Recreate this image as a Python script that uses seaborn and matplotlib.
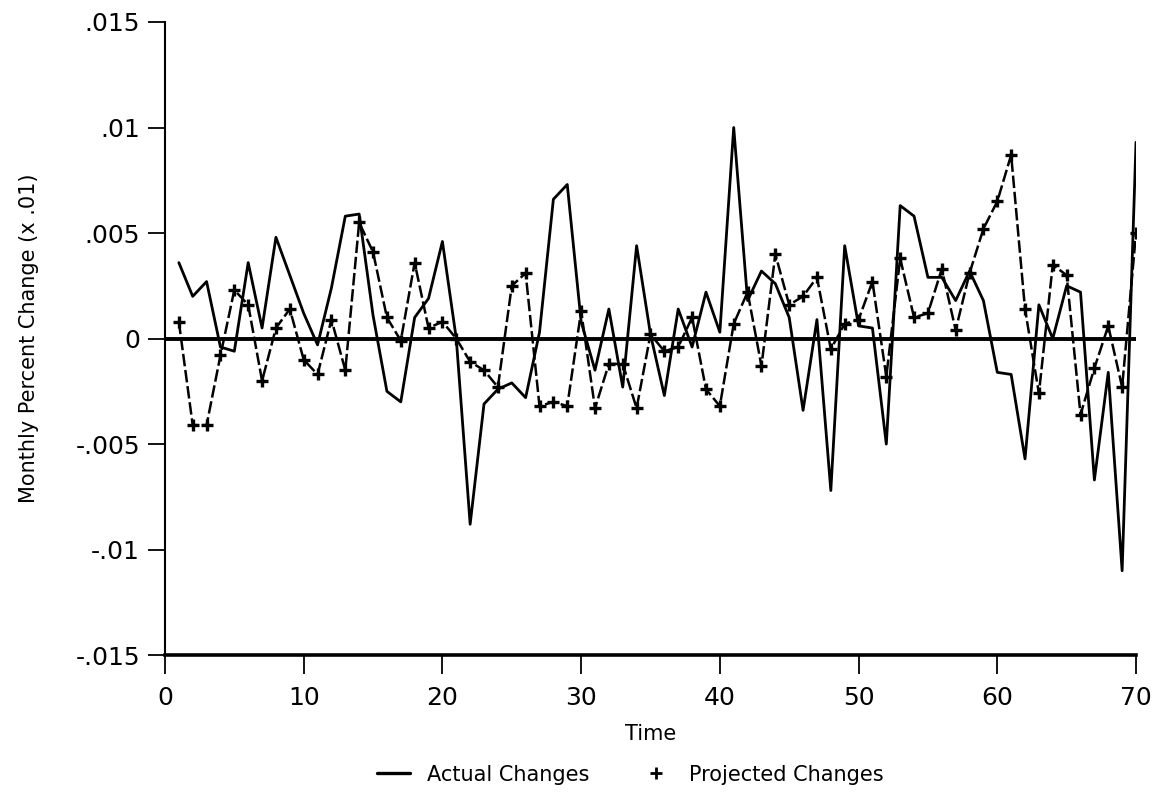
import matplotlib
matplotlib.use("Agg")
import matplotlib.pyplot as plt
from matplotlib.lines import Line2D
import pandas as pd
import seaborn as sns

time = list(range(1, 71))
actual = [0.0036, 0.0020, 0.0027, -0.0004, -0.0006, 0.0036, 0.0005, 0.0048, 0.0030, 0.0012,
          -0.0003, 0.0024, 0.0058, 0.0059, 0.0011, -0.0025, -0.0030, 0.0010, 0.0019, 0.0046,
          0.0000, -0.0088, -0.0031, -0.0024, -0.0021, -0.0028, 0.0003, 0.0066, 0.0073, 0.0008,
          -0.0015, 0.0014, -0.0023, 0.0044, 0.0002, -0.0027, 0.0014, -0.0004, 0.0022, 0.0003,
          0.0100, 0.0018, 0.0032, 0.0026, 0.0010, -0.0034, 0.0009, -0.0072, 0.0044, 0.0006,
          0.0005, -0.0050, 0.0063, 0.0058, 0.0029, 0.0029, 0.0018, 0.0032, 0.0018, -0.0016,
          -0.0017, -0.0057, 0.0016, 0.0000, 0.0025, 0.0022, -0.0067, -0.0016, -0.0110, 0.0093]
projected = [0.0008, -0.0041, -0.0041, -0.0008, 0.0023, 0.0016, -0.0020, 0.0005, 0.0014, -0.0010,
             -0.0017, 0.0009, -0.0015, 0.0055, 0.0041, 0.0010, -0.0001, 0.0036, 0.0005, 0.0008,
             0.0000, -0.0011, -0.0015, -0.0023, 0.0025, 0.0031, -0.0032, -0.0030, -0.0032, 0.0013,
             -0.0033, -0.0012, -0.0012, -0.0033, 0.0002, -0.0006, -0.0004, 0.0010, -0.0024, -0.0032,
             0.0007, 0.0022, -0.0013, 0.0040, 0.0016, 0.0020, 0.0029, -0.0005, 0.0007, 0.0009,
             0.0027, -0.0018, 0.0038, 0.0010, 0.0012, 0.0033, 0.0004, 0.0031, 0.0052, 0.0065,
             0.0087, 0.0014, -0.0026, 0.0035, 0.0030, -0.0036, -0.0014, 0.0006, -0.0023, 0.0050]

x_ticks = [0, 10, 20, 30, 40, 50, 60, 70]
y_ticks = [-0.015, -0.01, -0.005, 0, 0.005, 0.01, 0.015]
y_tick_labels = ["-.015", "-.01", "-.005", "0", ".005", ".01", ".015"]
series_names = ["Actual Changes", "Projected Changes"]

sns.set_style("ticks")
plt.rcParams['font.family'] = ['DejaVu Sans']
plt.rcParams['text.color'] = 'black'
plt.rcParams['axes.labelcolor'] = 'black'
plt.rcParams['xtick.color'] = 'black'
plt.rcParams['ytick.color'] = 'black'

df = pd.DataFrame({"Time": time, "Actual": actual, "Projected": projected})

fig = plt.figure(figsize=(11.56, 7.97), dpi=100)
ax = fig.add_axes([0.1427, 0.178, 0.840, 0.7944])

sns.lineplot(data=df, x="Time", y="Actual", ax=ax, color="black", lw=2.0)
sns.lineplot(data=df, x="Time", y="Projected", ax=ax, color="black", lw=1.8,
             linestyle=(0, (5, 1.5)), marker="+", markersize=9, markeredgewidth=2.4,
             markeredgecolor="black")
ax.axhline(0, color="black", lw=2.8, zorder=1)

ax.set_xlim(0, 70)
ax.set_ylim(-0.015, 0.015)
ax.set_xticks(x_ticks)
ax.set_xticklabels([str(t) for t in x_ticks], fontsize=18)
ax.set_yticks(y_ticks)
ax.set_yticklabels(y_tick_labels, fontsize=18)
ax.tick_params(axis="x", direction="out", length=14, width=1.3, pad=8, colors="black")
ax.tick_params(axis="y", direction="out", length=12, width=1.3, pad=6, colors="black")

for s in ["top", "right"]:
    ax.spines[s].set_visible(False)
ax.spines["left"].set_linewidth(1.5)
ax.spines["bottom"].set_linewidth(2.6)
ax.spines["left"].set_color("black")
ax.spines["bottom"].set_color("black")

ax.set_xlabel("Time", fontsize=15, labelpad=10, color="black")
ax.set_ylabel("Monthly Percent Change (x .01)", fontsize=15, labelpad=26, color="black")

handles = [Line2D([], [], color="black", lw=2.4),
           Line2D([], [], color="black", lw=0, marker="+", markersize=8, markeredgewidth=2.0)]
fig.legend(handles, series_names, loc="lower center", bbox_to_anchor=(0.545, -0.008),
           ncol=2, frameon=False, fontsize=15, handlelength=1.6, columnspacing=2.4,
           labelcolor="black")

fig.savefig("out.png", dpi=100, facecolor="white")
